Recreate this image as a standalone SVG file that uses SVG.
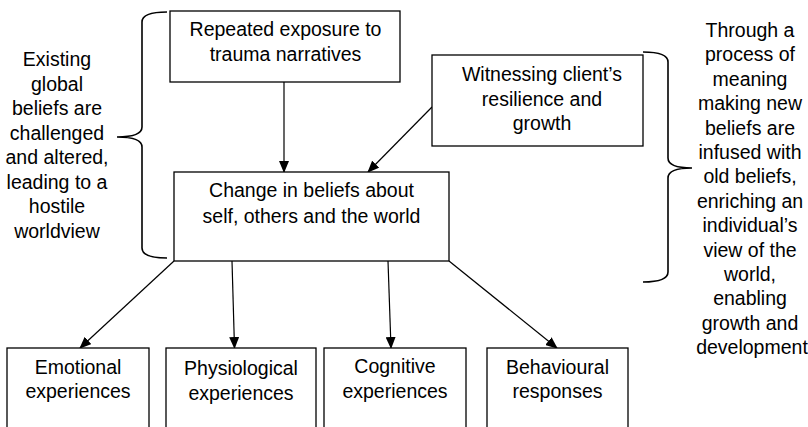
<svg xmlns="http://www.w3.org/2000/svg" width="808" height="427" viewBox="0 0 808 427">
<style>
text{font-family:"Liberation Sans",Arial,sans-serif;font-size:19.5px;fill:#000;text-anchor:middle}
.box{fill:#fff;stroke:#000;stroke-width:1.3}
.edge{fill:none;stroke:#000;stroke-width:1.2}
.brace{fill:none;stroke:#000;stroke-width:1.6}
</style>
<defs>
<marker id="ah" markerUnits="userSpaceOnUse" markerWidth="12" markerHeight="10" refX="11" refY="5" orient="auto">
<path d="M0,0 L12,5 L0,10 z" fill="#000"/>
</marker>
</defs>
<rect width="808" height="427" fill="#fff"/>
<g id="connectors">
<path class="edge" d="M284,82 L284,172" marker-end="url(#ah)"/>
<path class="edge" d="M432,107 L368,172" marker-end="url(#ah)"/>
<path class="edge" d="M174,261 L80,348" marker-end="url(#ah)"/>
<path class="edge" d="M232,261 L234.5,348" marker-end="url(#ah)"/>
<path class="edge" d="M388,261 L391,348" marker-end="url(#ah)"/>
<path class="edge" d="M449,261 L557,348" marker-end="url(#ah)"/>
</g>
<g id="brace-left">
<path class="brace" d="M167,12 Q142,12 142,22 L142,127 Q142,137 117,137 Q142,137 142,147 L142,248 Q142,258 167,258"/>
<text x="57" y="66">Existing</text>
<text x="57" y="90.5">global</text>
<text x="57" y="115">beliefs are</text>
<text x="57" y="139.5">challenged</text>
<text x="57" y="164">and altered,</text>
<text x="57" y="188.5">leading to a</text>
<text x="57" y="213">hostile</text>
<text x="57" y="237.5">worldview</text>
</g>
<g id="brace-right">
<path class="brace" d="M643,52 Q668,52 668,62 L668,158 Q668,168 692,168 Q668,168 668,178 L668,272 Q668,282 643,282"/>
<text x="750" y="37">Through a</text>
<text x="750" y="61.4">process of</text>
<text x="750" y="85.8">meaning</text>
<text x="750" y="110.2">making new</text>
<text x="750" y="134.6">beliefs are</text>
<text x="750" y="159">infused with</text>
<text x="750" y="183.4">old beliefs,</text>
<text x="750" y="207.8">enriching an</text>
<text x="750" y="232.2">individual’s</text>
<text x="750" y="256.6">view of the</text>
<text x="750" y="281">world,</text>
<text x="750" y="305.4">enabling</text>
<text x="750" y="329.8">growth and</text>
<text x="752" y="354.2">development</text>
</g>
<g id="node-repeated">
<rect class="box" x="170" y="11" width="230" height="71"/>
<text x="285.5" y="36">Repeated exposure to</text>
<text x="285.5" y="61">trauma narratives</text>
</g>
<g id="node-witnessing">
<rect class="box" x="432" y="55" width="211" height="91"/>
<text x="542" y="81">Witnessing client’s</text>
<text x="542" y="105.5">resilience and</text>
<text x="542" y="130">growth</text>
</g>
<g id="node-change">
<rect class="box" x="174" y="172" width="275" height="89"/>
<text x="311.5" y="197">Change in beliefs about</text>
<text x="311.5" y="223">self, others and the world</text>
</g>
<g id="node-emotional">
<rect class="box" x="7" y="348" width="142" height="100"/>
<text x="78" y="374">Emotional</text>
<text x="78" y="398">experiences</text>
</g>
<g id="node-physiological">
<rect class="box" x="166" y="348" width="150" height="100"/>
<text x="241" y="375">Physiological</text>
<text x="241" y="400">experiences</text>
</g>
<g id="node-cognitive">
<rect class="box" x="324" y="348" width="142" height="100"/>
<text x="395" y="373">Cognitive</text>
<text x="395" y="398">experiences</text>
</g>
<g id="node-behavioural">
<rect class="box" x="487" y="348" width="141" height="100"/>
<text x="557.5" y="374">Behavioural</text>
<text x="557.5" y="398">responses</text>
</g>
</svg>
